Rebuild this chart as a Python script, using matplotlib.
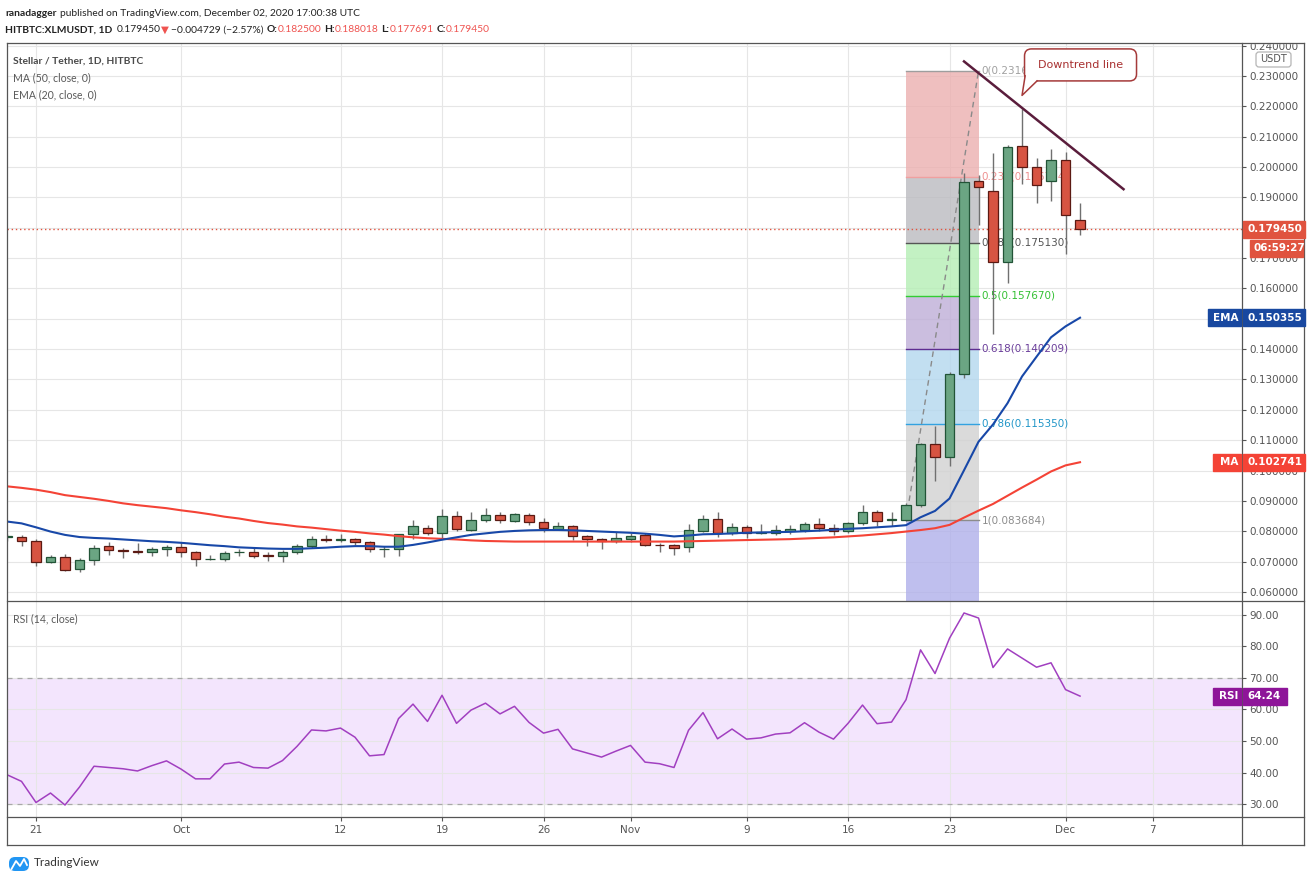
import matplotlib
matplotlib.use('Agg')
import matplotlib.pyplot as plt
import matplotlib.dates as mdates
from matplotlib.lines import Line2D
from matplotlib.patches import Rectangle, FancyBboxPatch, Polygon
from matplotlib.transforms import IdentityTransform
import numpy as np
import pandas as pd

# daily candles, Sep 19 .. Dec 2 2020
dates = pd.date_range('2020-09-19', '2020-12-02', freq='D')

opens = [0.0781, 0.0782, 0.0767, 0.0698, 0.0714, 0.0676, 0.0705, 0.0751, 0.0738, 0.0735,
         0.0731, 0.0741, 0.0747, 0.0731, 0.0708, 0.0707, 0.0730, 0.0731, 0.0722, 0.0720,
         0.0731, 0.0750, 0.0774, 0.0770, 0.0774, 0.0764, 0.0741, 0.0741, 0.0790, 0.0812,
         0.0793, 0.0849, 0.0805, 0.0836, 0.0853, 0.0835, 0.0853, 0.0830, 0.0809, 0.0817,
         0.0784, 0.0774, 0.0767, 0.0774, 0.0787, 0.0756, 0.0754, 0.0747, 0.0802, 0.0840,
         0.0793, 0.0813, 0.0795, 0.0795, 0.0802, 0.0805, 0.0823, 0.0810, 0.0800, 0.0826,
         0.0863, 0.0836, 0.0838, 0.0887, 0.1089, 0.1046, 0.1319, 0.1953, 0.1922, 0.1687,
         0.2068, 0.1999, 0.1955, 0.2024, 0.182500]
highs = [0.0790, 0.0788, 0.0774, 0.0722, 0.0725, 0.0711, 0.0755, 0.0764, 0.0745, 0.0761,
         0.0749, 0.0755, 0.0764, 0.0736, 0.0722, 0.0735, 0.0742, 0.0749, 0.0731, 0.0738,
         0.0759, 0.0785, 0.0789, 0.0791, 0.0779, 0.0769, 0.0753, 0.0790, 0.0837, 0.0821,
         0.0874, 0.0867, 0.0865, 0.0877, 0.0865, 0.0860, 0.0859, 0.0843, 0.0832, 0.0821,
         0.0788, 0.0778, 0.0797, 0.0793, 0.0793, 0.0762, 0.0759, 0.0824, 0.0854, 0.0862,
         0.0827, 0.0821, 0.0824, 0.0821, 0.0819, 0.0830, 0.0844, 0.0824, 0.0830, 0.0887,
         0.0869, 0.0865, 0.0893, 0.1092, 0.1146, 0.1324, 0.1980, 0.1975, 0.2047, 0.2071,
         0.2191, 0.2029, 0.2058, 0.2050, 0.188018]
lows = [0.0769, 0.0753, 0.0687, 0.0695, 0.0668, 0.0667, 0.0689, 0.0723, 0.0711, 0.0725,
        0.0720, 0.0720, 0.0714, 0.0687, 0.0705, 0.0702, 0.0718, 0.0713, 0.0702, 0.0700,
        0.0724, 0.0745, 0.0764, 0.0764, 0.0756, 0.0733, 0.0716, 0.0720, 0.0773, 0.0789,
        0.0775, 0.0802, 0.0801, 0.0832, 0.0826, 0.0831, 0.0819, 0.0797, 0.0804, 0.0771,
        0.0753, 0.0742, 0.0762, 0.0764, 0.0753, 0.0731, 0.0723, 0.0731, 0.0799, 0.0781,
        0.0788, 0.0779, 0.0790, 0.0789, 0.0790, 0.0797, 0.0802, 0.0787, 0.0793, 0.0821,
        0.0816, 0.0816, 0.0835, 0.0880, 0.0964, 0.1014, 0.1304, 0.1809, 0.1451, 0.1618,
        0.1944, 0.1880, 0.1888, 0.1712, 0.177691]
closes = [0.0783, 0.0767, 0.0698, 0.0714, 0.0671, 0.0705, 0.0744, 0.0737, 0.0734, 0.0731,
          0.0742, 0.0748, 0.0731, 0.0708, 0.0710, 0.0729, 0.0732, 0.0720, 0.0720, 0.0731,
          0.0751, 0.0774, 0.0770, 0.0775, 0.0764, 0.0741, 0.0742, 0.0790, 0.0816, 0.0793,
          0.0849, 0.0807, 0.0836, 0.0853, 0.0836, 0.0856, 0.0830, 0.0810, 0.0817, 0.0784,
          0.0773, 0.0767, 0.0777, 0.0784, 0.0756, 0.0754, 0.0744, 0.0803, 0.0840, 0.0793,
          0.0813, 0.0793, 0.0798, 0.0803, 0.0807, 0.0823, 0.0810, 0.0800, 0.0826, 0.0863,
          0.0835, 0.0840, 0.0887, 0.1089, 0.1046, 0.1319, 0.1952, 0.1933, 0.1687, 0.2065,
          0.1999, 0.1942, 0.2024, 0.18418, 0.179450]

ema20 = [0.0832, 0.0826, 0.0813, 0.0799, 0.0788, 0.0781, 0.0778, 0.0776, 0.0773, 0.0770,
         0.0767, 0.0765, 0.0762, 0.0758, 0.0754, 0.0751, 0.0747, 0.0745, 0.0743, 0.0742,
         0.0742, 0.0744, 0.0746, 0.0749, 0.0751, 0.0751, 0.0749, 0.0749, 0.0755, 0.0763,
         0.0772, 0.0780, 0.0788, 0.0793, 0.0798, 0.0801, 0.0803, 0.0804, 0.0804, 0.0803,
         0.0801, 0.0799, 0.0797, 0.0795, 0.0792, 0.0788, 0.0783, 0.0786, 0.0790, 0.0791,
         0.0793, 0.0795, 0.0796, 0.0797, 0.0798, 0.0800, 0.0802, 0.0805, 0.0808, 0.0810,
         0.0813, 0.0816, 0.0820, 0.0846, 0.0867, 0.0908, 0.1001, 0.1095, 0.1152, 0.1222,
         0.1310, 0.1375, 0.1439, 0.1475, 0.150355]
ma50 = [0.0948, 0.0943, 0.0937, 0.0929, 0.0919, 0.0913, 0.0907, 0.0900, 0.0892, 0.0886,
        0.0881, 0.0876, 0.0869, 0.0863, 0.0856, 0.0848, 0.0842, 0.0834, 0.0827, 0.0822,
        0.0816, 0.0812, 0.0807, 0.0802, 0.0798, 0.0793, 0.0789, 0.0784, 0.0780, 0.0777,
        0.0775, 0.0773, 0.0770, 0.0768, 0.0767, 0.0766, 0.0766, 0.0766, 0.0766, 0.0766,
        0.0766, 0.0766, 0.0766, 0.0766, 0.0766, 0.0766, 0.0766, 0.0767, 0.0768, 0.0769,
        0.0770, 0.0771, 0.0772, 0.0773, 0.0774, 0.0776, 0.0778, 0.0780, 0.0783, 0.0786,
        0.0790, 0.0794, 0.0799, 0.0804, 0.0810, 0.0821, 0.0845, 0.0868, 0.0890, 0.0917,
        0.0944, 0.0970, 0.0997, 0.1017, 0.102741]
rsi14 = [39.3, 37.2, 30.5, 33.5, 29.7, 35.4, 42.0, 41.6, 41.2, 40.5,
         42.2, 43.7, 41.1, 38.0, 38.0, 42.7, 43.3, 41.6, 41.4, 43.8,
         48.3, 53.5, 53.2, 54.1, 51.2, 45.3, 45.7, 57.1, 61.7, 56.2,
         64.5, 55.6, 59.8, 62.0, 58.6, 61.0, 55.9, 52.5, 53.7, 47.5,
         46.2, 44.9, 46.8, 48.6, 43.3, 42.8, 41.6, 53.4, 59.0, 50.7,
         53.8, 50.6, 51.0, 52.2, 52.6, 55.8, 52.8, 50.6, 55.6, 61.4,
         55.5, 56.0, 63.1, 78.9, 71.4, 82.6, 90.6, 89.0, 73.3, 79.2,
         76.3, 73.4, 74.8, 66.3, 64.24]

tick_dates = ['2020-09-21', '2020-10-01', '2020-10-12', '2020-10-19', '2020-10-26', '2020-11-01',
              '2020-11-09', '2020-11-16', '2020-11-23', '2020-12-01', '2020-12-07']
tick_labels = ['21', 'Oct', '12', '19', '26', 'Nov', '9', '16', '23', 'Dec', '7']
price_ticks = [0.06, 0.07, 0.08, 0.09, 0.10, 0.11, 0.12, 0.13, 0.14, 0.15,
               0.16, 0.17, 0.18, 0.19, 0.20, 0.21, 0.22, 0.23, 0.24]
rsi_ticks = [30, 40, 50, 60, 70, 80, 90]

# fibonacci retracement drawn on the chart
fib_start, fib_end = '2020-11-20', '2020-11-25'
fib_low, fib_high = 0.083684, 0.231655
fib_levels = [0, 0.236, 0.382, 0.5, 0.618, 0.786, 1, 1.618]
fib_line_colors = ['#9e9e9e', '#f0a0a0', '#555555', '#33cc33', '#5e2d91', '#33a2e0', '#8c8c8c']
fib_text_colors = ['#a0a0a0', '#ee9090', '#555555', '#33c033', '#6a3d9a', '#2196c8', '#8c8c8c']
fib_band_colors = ['#ecb0b0', '#bbbbc0', '#b4eeb4', '#beaed7', '#b3d7ee', '#d1d1d1', '#b0b0ea']

trend_dates = ['2020-11-24', '2020-12-05']
trend_prices = [0.2348, 0.1927]
note_date, note_price, note_text = '2020-11-28', 0.2236, 'Downtrend line'

W, H = 1311, 881
fig = plt.figure(figsize=(W / 100, H / 100), dpi=100)
fig.patch.set_facecolor('white')
SANS = ['Lato', 'DejaVu Sans']
NUM = 'DejaVu Sans'
AXC = '#555555'


def frac(x0, y0, x1, y1):
    return [x0 / W, 1 - y1 / H, (x1 - x0) / W, (y1 - y0) / H]


def fline(x0, y0, x1, y1, color=AXC, lw=0.9):
    fig.add_artist(Line2D([x0 / W, x1 / W], [1 - y0 / H, 1 - y1 / H], color=color, lw=lw,
                          transform=fig.transFigure, zorder=20))


ax = fig.add_axes(frac(7, 43, 1242, 601))
rx = fig.add_axes(frac(7, 601, 1242, 817), sharex=ax)

x = mdates.date2num(dates)
d0 = mdates.date2num(pd.Timestamp('2020-09-21'))
ax.set_xlim(d0 - 2.0, d0 + 83.17)
ax.set_ylim(0.05702, 0.24087)
rx.set_ylim(25.9, 94.4)

for a in (ax, rx):
    a.set_axisbelow(True)
    a.grid(True, color='#e6e6e6', lw=0.8)
    for s in a.spines.values():
        s.set_visible(False)
    a.yaxis.tick_right()
    a.tick_params(axis='y', direction='out', length=3, width=0.8, colors=AXC, labelsize=7.5, pad=2)

rx.set_xticks(mdates.date2num(pd.to_datetime(tick_dates)))
rx.set_xticklabels(tick_labels)
rx.tick_params(axis='x', direction='out', length=3, width=0.8, colors=AXC, labelsize=7.5, pad=3)
ax.tick_params(axis='x', length=0, labelbottom=False)
ax.set_yticks(price_ticks)
ax.set_yticklabels([f'{p:.6f}' for p in price_ticks], family=NUM)
rx.set_yticks(rsi_ticks)
rx.set_yticklabels([f'{v:.2f}' for v in rsi_ticks], family=NUM)

# fibonacci retracement
f0 = mdates.date2num(pd.Timestamp(fib_start))
f1 = mdates.date2num(pd.Timestamp(fib_end))
rng = fib_high - fib_low
lv_price = [fib_high - lv * rng for lv in fib_levels]
for i, col in enumerate(fib_band_colors):
    ax.fill_between([f0, f1], lv_price[i + 1], lv_price[i], color=col, alpha=0.8, lw=0, zorder=1)
for i in range(7):
    ax.plot([f0, f1], [lv_price[i], lv_price[i]], color=fib_line_colors[i], lw=1, zorder=1.5)
    ax.text(f1 + 0.22, lv_price[i], f'{fib_levels[i]:g}({lv_price[i] + 1e-9:.6f})',
            color=fib_text_colors[i], fontsize=7.5, family=NUM, va='center', ha='left', zorder=2)
ax.plot([f0, f1], [fib_low, fib_high], color='#8a8a8a', lw=1, ls=(0, (4, 3)), zorder=1.6)

# current price line
ax.axhline(closes[-1], color='#e0533f', lw=1, ls=(0, (1, 2)), zorder=2)

# candles
o, h, l, c = map(np.array, (opens, highs, lows, closes))
up = c >= o
lo = np.minimum(o, c)
hgt = np.maximum(np.abs(c - o), 0.00015)
ax.vlines(x, l, h, color='#707070', lw=1, zorder=3)
ax.bar(x[up], hgt[up], 0.68, bottom=lo[up], color='#6ba583', edgecolor='#225437', lw=0.9, zorder=4)
ax.bar(x[~up], hgt[~up], 0.68, bottom=lo[~up], color='#d75442', edgecolor='#5b1a13', lw=0.9, zorder=4)

ax.plot(x, ma50, color='#f44336', lw=1.5, zorder=5)
ax.plot(x, ema20, color='#1848a8', lw=1.5, zorder=5)

# downtrend line
ax.plot(mdates.date2num(pd.to_datetime(trend_dates)), trend_prices, color='#5a1d3c', lw=1.8, zorder=6)

# RSI panel
rx.axhspan(30, 70, color='#f3e5fd', zorder=0.2, lw=0)
for v in (30, 70):
    rx.axhline(v, color='#a8a8a8', lw=0.9, ls=(0, (4, 4)), zorder=1)
rx.plot(x, rsi14, color='#a13fc0', lw=1.1, zorder=3)

# frame
fig.add_artist(Rectangle((1243 / W, 1 - 42.5 / H), 60 / W, 8 / H, transform=fig.transFigure,
                         color='white', zorder=15))
for seg in [(7, 43, 1304, 43), (7, 845, 1304, 845), (7, 43, 7, 845), (1304, 43, 1304, 845),
            (1242, 43, 1242, 845), (7, 601, 1304, 601), (7, 817, 1304, 817)]:
    fline(*seg)

# USDT unit box
fig.add_artist(FancyBboxPatch((1256, H - 67), 35, 15, boxstyle='round,pad=0,rounding_size=3',
                              transform=IdentityTransform(), fc='white', ec='#b5b5b5', lw=0.9, zorder=16))
fig.text(1273.5 / W, (H - 59.5) / H, 'USDT', fontsize=7, color=AXC, ha='center', va='center',
         family=NUM, zorder=17)

# price ticks fully hidden under a tag are not shown at all
fig.canvas.draw()


def tag(axis, value, text, color, x0=1243, x1=1305, dy=0.0, name=None, name_x0=None):
    yd = axis.transData.transform((axis.get_xlim()[0], value))[1] + dy
    for lab in axis.get_yticklabels():
        bb = lab.get_window_extent()
        if bb.y0 >= yd - 9 and bb.y1 <= yd + 9:
            lab.set_visible(False)
    fig.add_artist(Rectangle((x0, yd - 8.5), x1 - x0, 17, transform=IdentityTransform(),
                             color=color, zorder=21))
    fig.text((x0 + 4) / W, yd / H, text, color='white', fontsize=7.5, fontweight='bold',
             family=NUM, ha='left', va='center', zorder=22)
    if name:
        fig.add_artist(Rectangle((name_x0, yd - 8.5), 1241 - name_x0, 17,
                                 transform=IdentityTransform(), color=color, zorder=21))
        fig.text(1238 / W, yd / H, name, color='white', fontsize=7.5, fontweight='bold',
                 family=NUM, ha='right', va='center', zorder=22)


tag(ax, closes[-1], f'{closes[-1]:.6f}', '#e0533f')
tag(ax, closes[-1], '06:59:27', '#e0533f', x0=1250, x1=1303, dy=-18.8)
tag(ax, ema20[-1], f'{ema20[-1]:.6f}', '#1848a0', name='EMA', name_x0=1208)
tag(ax, ma50[-1], f'{ma50[-1]:.6f}', '#f44336', name='MA', name_x0=1213)
tag(rx, rsi14[-1], f'{rsi14[-1]:.2f}', '#8e1599', x1=1287, name='RSI', name_x0=1213)

# callout for the downtrend line
axp, ayp = ax.transData.transform((mdates.date2num(pd.Timestamp(note_date)), note_price))
bl, br, bb, bt = axp + 2.5, axp + 114.5, ayp + 14.5, ayp + 46.5
ec = '#a53a3a'
fig.add_artist(FancyBboxPatch((bl, bb), br - bl, bt - bb, boxstyle='round,pad=0,rounding_size=7',
                              transform=IdentityTransform(), fc='white', ec=ec, lw=1.1, zorder=23))
fig.add_artist(Polygon([(bl + 0.8, bb + 5), (axp, ayp), (bl + 12, bb - 0.2), (bl + 12, bb + 2),
                        (bl + 3, bb + 6)], closed=True, transform=IdentityTransform(),
                       fc='white', ec='none', zorder=24))
fig.add_artist(Line2D([bl + 0.6, axp, bl + 12.5], [bb + 5, ayp, bb], color=ec, lw=1.1,
                      transform=IdentityTransform(), zorder=25))
fig.text((bl + br) / 2 / W, (bb + bt) / 2 / H, note_text, color='#a83030', fontsize=8,
         family=NUM, ha='center', va='center', zorder=26)

# header and legends
renderer = fig.canvas.get_renderer()


def run(xp, yp, parts, size):
    for p in parts:
        if isinstance(p, (int, float)):
            xp += p
            continue
        s, col, wt = p
        t = fig.text(xp / W, 1 - yp / H, s, color=col, fontweight=wt, fontsize=size,
                     family=SANS, ha='left', va='center')
        xp += t.get_window_extent(renderer).width


dark, red = '#222222', '#ef5350'
run(5, 13, [('ranadagger', dark, 'bold'), 3,
            ('published on TradingView.com, December 02, 2020 17:00:38 UTC', dark, 'normal')], 7.4)
run(5, 30, [('HITBTC:XLMUSDT, 1D', dark, 'bold'), 4, ('0.179450', dark, 'normal'), 1,
            ('▼', red, 'normal'), 2, ('−0.004729 (−2.57%)', dark, 'normal'), 3,
            ('O:', dark, 'bold'), ('0.182500', red, 'normal'), 3,
            ('H:', dark, 'bold'), ('0.188018', red, 'normal'), 3,
            ('L:', dark, 'bold'), ('0.177691', red, 'normal'), 3,
            ('C:', dark, 'bold'), ('0.179450', red, 'normal')], 7.4)

fig.text(13 / W, 1 - 61 / H, 'Stellar / Tether, 1D, HITBTC', color='#4a4a4a', fontsize=7.4,
         fontweight='bold', family=SANS, va='center')
fig.text(13 / W, 1 - 78 / H, 'MA (50, close, 0)', color='#5a5a5a', fontsize=7.6, family=SANS, va='center')
fig.text(13 / W, 1 - 95 / H, 'EMA (20, close, 0)', color='#5a5a5a', fontsize=7.6, family=SANS, va='center')
fig.text(13 / W, 1 - 619 / H, 'RSI (14, close)', color='#5a5a5a', fontsize=7.6, family=SANS, va='center')

# TradingView mark
fig.add_artist(FancyBboxPatch((9, H - 871), 20, 14, boxstyle='round,pad=0,rounding_size=6',
                              transform=IdentityTransform(), fc='#2196f3', ec='none', zorder=5))
fig.add_artist(Line2D([11.5, 16, 20, 24, 27], [H - 869, H - 861, H - 866, H - 859, H - 865],
                      color='white', lw=1.3, transform=IdentityTransform(), zorder=6))
fig.text(34 / W, 1 - 863 / H, 'TradingView', color='#333333', fontsize=8.5, family=SANS, va='center')

fig.savefig('out.png', dpi=100, facecolor='white')
